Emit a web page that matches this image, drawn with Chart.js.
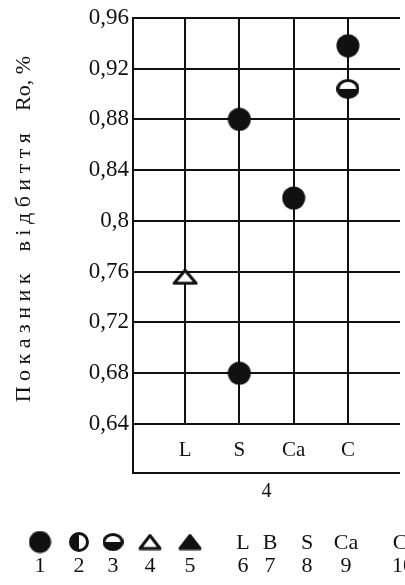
<!DOCTYPE html>
<html>
<head>
<meta charset="utf-8">
<script src="https://cdn.jsdelivr.net/npm/chart.js@4"></script>
<style>
  html, body { margin: 0; padding: 0; background: #fff; }
  canvas { display: block; }
</style>
</head>
<body>
<canvas id="chart" width="405" height="585"></canvas>
<script>
// categories on the x axis
const categories = ['L', 'S', 'Ca', 'C'];
const yTickValues = [0.64, 0.68, 0.72, 0.76, 0.8, 0.84, 0.88, 0.92, 0.96];
const yTickLabels = ['0,64', '0,68', '0,72', '0,76', '0,8', '0,84', '0,88', '0,92', '0,96'];

// marker 1 - filled circle
const dotCats = ['S', 'S', 'Ca', 'C'];
const dotValues = [0.88, 0.68, 0.818, 0.938];
// marker 3 - circle, lower half filled
const halfCats = ['C'];
const halfValues = [0.904];
// marker 4 - open triangle
const triCats = ['L'];
const triValues = [0.756];

const xTitle = '4';
// trailing spaces push the rotated title a little lower, as in the original
const yTitle = 'П о к а з н и к    в і д б и т т я    Ro, %   ';
const legendSymbols = ['dot', 'halfLeft', 'halfBottom', 'triOpen', 'triFill'];
const legendSymbolNums = ['1', '2', '3', '4', '5'];
const legendLetters = ['L', 'B', 'S', 'Ca', 'C'];
const legendLetterNums = ['6', '7', '8', '9', '10'];

const INK = '#111';
const FONT = "'Liberation Serif', 'DejaVu Serif', serif";

function makeMarker(kind, w, h) {
  const c = document.createElement('canvas');
  c.width = w; c.height = h;
  const g = c.getContext('2d');
  g.lineWidth = 3;
  g.strokeStyle = INK;
  g.fillStyle = INK;
  const cx = w / 2, cy = h / 2;
  if (kind === 'dot') {
    g.beginPath(); g.ellipse(cx, cy, w / 2 - 0.5, h / 2 - 0.5, 0, 0, Math.PI * 2); g.fill();
  } else if (kind === 'halfLeft' || kind === 'halfBottom') {
    const rx = w / 2 - 1.5, ry = h / 2 - 1.5;
    g.fillStyle = '#fff';
    g.beginPath(); g.ellipse(cx, cy, rx, ry, 0, 0, Math.PI * 2); g.fill();
    g.fillStyle = INK;
    g.beginPath();
    if (kind === 'halfLeft') g.ellipse(cx, cy, rx, ry, 0, Math.PI / 2, Math.PI * 1.5);
    else g.ellipse(cx, cy, rx, ry, 0, 0, Math.PI);
    g.closePath(); g.fill();
    g.beginPath(); g.ellipse(cx, cy, rx, ry, 0, 0, Math.PI * 2); g.stroke();
  } else {
    g.beginPath();
    g.moveTo(cx, 2);
    g.lineTo(w - 2, h - 2);
    g.lineTo(2, h - 2);
    g.closePath();
    g.lineJoin = 'round';
    if (kind === 'triFill') { g.fill(); g.stroke(); }
    else { g.fillStyle = '#fff'; g.fill(); g.stroke(); }
  }
  return c;
}

const toPoints = (cats, vals) => cats.map((c, i) => ({ x: categories.indexOf(c) + 1, y: vals[i] }));

const boxPlugin = {
  id: 'box',
  afterDraw(chart) {
    const { ctx, chartArea } = chart;
    const boxBottom = chartArea.bottom + 49;
    ctx.save();
    ctx.strokeStyle = INK;
    ctx.lineWidth = 2;
    ctx.beginPath();
    ctx.moveTo(chartArea.left, chartArea.bottom);
    ctx.lineTo(chartArea.left, boxBottom);
    ctx.lineTo(chartArea.right, boxBottom);
    ctx.stroke();

    // legend row under the chart
    const symX = [40, 79, 113, 150, 190];
    const symSize = [[23, 23], [20, 20], [21, 18], [24, 17], [24, 17]];
    legendSymbols.forEach((k, i) => {
      const [w, h] = symSize[i];
      ctx.drawImage(makeMarker(k, w, h), symX[i] - w / 2, 542 - h / 2);
    });
    ctx.fillStyle = INK;
    ctx.font = '22px ' + FONT;
    ctx.textAlign = 'center';
    ctx.textBaseline = 'middle';
    legendSymbolNums.forEach((t, i) => ctx.fillText(t, symX[i], 566));
    const letX = [243, 270, 307, 346, 400];
    legendLetters.forEach((t, i) => ctx.fillText(t, letX[i], 543));
    legendLetterNums.forEach((t, i) => ctx.fillText(t, letX[i] + (i === 4 ? 3 : 0), 566));
    ctx.restore();
  }
};

new Chart(document.getElementById('chart'), {
  type: 'scatter',
  data: {
    datasets: [
      { label: '1', data: toPoints(dotCats, dotValues), pointStyle: makeMarker('dot', 24, 24) },
      { label: '3', data: toPoints(halfCats, halfValues), pointStyle: makeMarker('halfBottom', 23, 20) },
      { label: '4', data: toPoints(triCats, triValues), pointStyle: makeMarker('triOpen', 26, 17) }
    ]
  },
  options: {
    responsive: false,
    animation: false,
    layout: { padding: { left: 0, top: 14, right: 0, bottom: 81 } },
    plugins: { legend: { display: false }, tooltip: { enabled: false } },
    scales: {
      x: {
        type: 'linear',
        min: 0.04,
        max: 4.96,
        afterBuildTicks: s => { s.ticks = categories.map((c, i) => ({ value: i + 1 })); },
        afterFit: s => { s.height = 80; },
        ticks: {
          color: INK,
          font: { family: FONT, size: 21 },
          padding: 14,
          callback: v => categories[v - 1]
        },
        grid: { color: INK, lineWidth: 2, drawTicks: false },
        border: { display: false },
        title: { display: true, text: xTitle, color: INK, font: { family: FONT, size: 20 }, padding: 0 }
      },
      y: {
        min: 0.64,
        max: 0.96,
        afterBuildTicks: s => { s.ticks = yTickValues.map(v => ({ value: v })); },
        afterFit: s => { s.width = 133; },
        ticks: {
          color: INK,
          font: { family: FONT, size: 23 },
          padding: 4,
          callback: (v, i) => yTickLabels[i]
        },
        grid: { color: INK, lineWidth: 2, drawTicks: false },
        border: { color: INK, width: 2 },
        title: { display: true, text: yTitle, color: INK, font: { family: FONT, size: 22 }, padding: { top: 11 } }
      }
    }
  },
  plugins: [boxPlugin]
});
</script>
</body>
</html>
